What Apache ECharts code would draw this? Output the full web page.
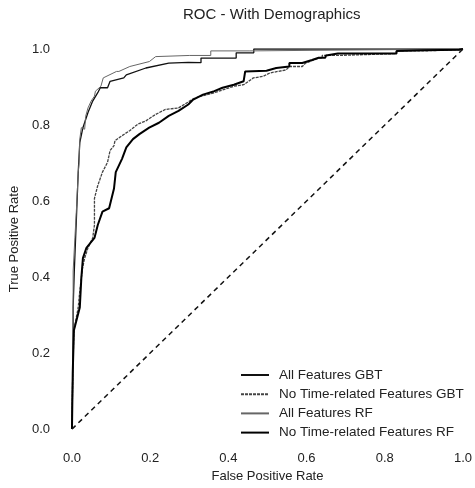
<!DOCTYPE html>
<html>
<head>
<meta charset="utf-8">
<script src="https://cdn.jsdelivr.net/npm/echarts@6/dist/echarts.min.js"></script>
<style>html,body{margin:0;padding:0;background:#fff;}#c{width:475px;height:488px;}</style>
</head>
<body>
<div id="c"></div>
<script>
var titleText = 'ROC - With Demographics';
var xName = 'False Positive Rate';
var yName = 'True Positive Rate';
var seriesNames = ['All Features GBT', 'No Time-related Features GBT', 'All Features RF', 'No Time-related Features RF'];

var allGBT = [[0,0],[0.002,0.15],[0.003,0.25],[0.003,0.32],[0.006,0.416],[0.012,0.572],[0.016,0.676],[0.02,0.754],[0.028,0.793],[0.041,0.833],[0.053,0.863],[0.066,0.885],[0.0725,0.898],[0.091,0.898],[0.0975,0.915],[0.1325,0.924],[0.139,0.932],[0.189,0.95],[0.2475,0.963],[0.2975,0.965],[0.33,0.964],[0.33,0.976],[0.42,0.976],[0.42,0.99],[0.465,0.99],[0.465,1.0],[1,1]];

var noTimeGBT = [[0,0],[0.002,0.15],[0.005,0.26],[0.016,0.32],[0.02,0.364],[0.027,0.424],[0.0325,0.45],[0.041,0.477],[0.053,0.503],[0.0575,0.537],[0.0575,0.607],[0.066,0.641],[0.078,0.676],[0.091,0.702],[0.0975,0.733],[0.1075,0.746],[0.11,0.759],[0.128,0.772],[0.1475,0.785],[0.168,0.802],[0.189,0.811],[0.214,0.828],[0.239,0.841],[0.2725,0.845],[0.314,0.871],[0.364,0.885],[0.414,0.902],[0.439,0.906],[0.464,0.924],[0.489,0.928],[0.506,0.937],[0.5475,0.945],[0.556,0.954],[0.589,0.954],[0.5975,0.963],[0.631,0.976],[0.64,0.976],[0.64,0.983],[0.68,0.983],[0.68,0.988],[0.83,0.988],[0.83,0.995],[0.9,0.995],[0.99,0.998],[1,1]];

var allRF = [[0,0],[0.002,0.15],[0.003,0.32],[0.003,0.416],[0.0075,0.503],[0.012,0.589],[0.016,0.676],[0.018,0.698],[0.02,0.763],[0.024,0.793],[0.0325,0.789],[0.035,0.823],[0.041,0.845],[0.049,0.863],[0.0575,0.876],[0.06,0.889],[0.074,0.902],[0.08,0.924],[0.0825,0.928],[0.114,0.941],[0.12,0.941],[0.148,0.954],[0.198,0.967],[0.214,0.98],[0.30,0.983],[0.355,0.983],[0.355,0.995],[0.455,0.995],[0.455,1.0],[1,1]];

var noTimeRF = [[0,0],[0.002,0.15],[0.005,0.26],[0.02,0.32],[0.024,0.398],[0.028,0.45],[0.037,0.477],[0.0575,0.503],[0.066,0.537],[0.078,0.572],[0.095,0.581],[0.1075,0.633],[0.112,0.676],[0.128,0.711],[0.139,0.741],[0.156,0.763],[0.1725,0.776],[0.1975,0.793],[0.2225,0.806],[0.2475,0.824],[0.2725,0.837],[0.2975,0.854],[0.31,0.867],[0.335,0.88],[0.364,0.889],[0.385,0.898],[0.414,0.906],[0.439,0.915],[0.443,0.941],[0.4975,0.943],[0.5225,0.95],[0.556,0.954],[0.556,0.963],[0.589,0.963],[0.614,0.971],[0.631,0.977],[0.6475,0.977],[0.65,0.983],[0.68,0.988],[0.83,0.988],[0.83,0.995],[0.9,0.997],[0.99,0.998],[1,1]];

var diagonal = [[0,0],[1,1]];

var font = '"Liberation Sans", Arial, sans-serif';
var chart = echarts.init(document.getElementById('c'), null, {renderer: 'canvas'});
function line(name, data, color, width, type) {
  return {
    name: name, type: 'line', data: data, symbol: 'none', showSymbol: false, silent: true, animation: false,
    lineStyle: {color: color, width: width, type: type}, itemStyle: {color: color}
  };
}
chart.setOption({
  animation: false,
  backgroundColor: '#fff',
  title: {
    text: titleText, left: 183, top: 7, padding: 0,
    textStyle: {fontFamily: font, fontSize: 15, fontWeight: 'normal', color: '#222'}
  },
  legend: {
    orient: 'vertical', left: 240, top: 368, itemWidth: 28, itemHeight: 14, itemGap: 5.2,
    padding: 0,
    data: seriesNames,
    itemStyle: {opacity: 0},
    textStyle: {fontFamily: font, fontSize: 13.5, lineHeight: 14, color: '#222', padding: [0, 0, 0, 5]}
  },
  grid: {left: 71, right: 4, top: 49, bottom: 55},
  xAxis: {
    type: 'value', min: 0, max: 1, interval: 0.2,
    name: xName, nameLocation: 'middle', nameGap: 40,
    nameTextStyle: {fontFamily: font, fontSize: 13, color: '#222'},
    axisLine: {show: false}, axisTick: {show: false}, splitLine: {show: false},
    axisLabel: {fontFamily: font, fontSize: 13, color: '#222', margin: 23,
      formatter: function (v) { return v.toFixed(1); }}
  },
  yAxis: {
    type: 'value', min: 0, max: 1, interval: 0.2,
    name: yName, nameLocation: 'middle', nameGap: 46,
    nameTextStyle: {fontFamily: font, fontSize: 13, color: '#222'},
    axisLine: {show: false}, axisTick: {show: false}, splitLine: {show: false},
    axisLabel: {fontFamily: font, fontSize: 13, color: '#222', margin: 22,
      formatter: function (v) { return v.toFixed(1); }}
  },
  series: [
    line(seriesNames[0], allGBT, '#111', 1.3, 'solid'),
    line(seriesNames[1], noTimeGBT, '#444', 1.3, [3, 1]),
    line(seriesNames[2], allRF, '#666', 1, 'solid'),
    line(seriesNames[3], noTimeRF, '#000', 2, 'solid'),
    {type: 'line', data: diagonal, symbol: 'none', silent: true, animation: false,
     lineStyle: {color: '#111', width: 1.5, type: [5, 4]}}
  ]
});
</script>
</body>
</html>
